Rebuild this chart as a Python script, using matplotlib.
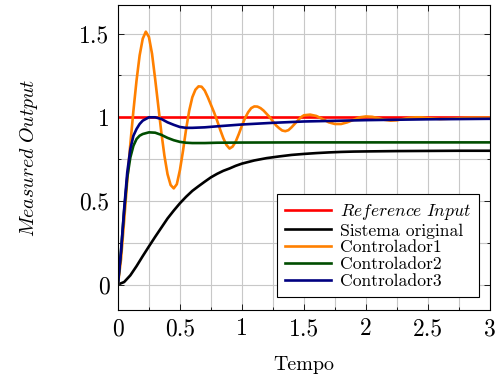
import numpy as np
import matplotlib
matplotlib.use('Agg')
import matplotlib.pyplot as plt
from matplotlib.ticker import MultipleLocator, FuncFormatter

plt.rcParams['font.family'] = 'serif'
plt.rcParams['font.serif'] = ['cmr10']
plt.rcParams['mathtext.fontset'] = 'cm'
plt.rcParams['axes.formatter.use_mathtext'] = True

# reference input
t_ref = [0, 3]
y_ref = [1, 1]

# sistema original
t_sys = [0, 0.05, 0.1, 0.15, 0.2, 0.25, 0.3, 0.35, 0.4, 0.45, 0.5, 0.55, 0.6, 0.65,
         0.7, 0.75, 0.8, 0.85, 0.9, 0.95, 1.0, 1.1, 1.2, 1.3, 1.4, 1.5, 1.6, 1.7,
         1.8, 1.9, 2.0, 2.25, 2.5, 2.75, 3.0]
y_sys = [0, 0.015, 0.055, 0.11, 0.17, 0.228, 0.285, 0.34, 0.395, 0.442, 0.486, 0.525,
         0.56, 0.588, 0.615, 0.641, 0.662, 0.68, 0.694, 0.71, 0.723, 0.742, 0.756,
         0.766, 0.775, 0.781, 0.786, 0.79, 0.793, 0.795, 0.796, 0.798, 0.799, 0.8, 0.8]

# controlador1
t_c1 = [0, 0.025, 0.05, 0.075, 0.1, 0.125, 0.15, 0.175, 0.2, 0.225, 0.25, 0.275, 0.3,
        0.325, 0.35, 0.375, 0.4, 0.425, 0.45, 0.475, 0.5, 0.525, 0.55, 0.575, 0.6,
        0.625, 0.65, 0.675, 0.7, 0.725, 0.75, 0.775, 0.8, 0.825, 0.85, 0.875, 0.9,
        0.925, 0.95, 0.975, 1.0, 1.025, 1.05, 1.075, 1.1, 1.125, 1.15, 1.175, 1.2,
        1.225, 1.25, 1.275, 1.3, 1.325, 1.35, 1.375, 1.4, 1.425, 1.45, 1.475, 1.5,
        1.55, 1.6, 1.65, 1.7, 1.75, 1.8, 1.85, 1.9, 1.95, 2.0, 2.05, 2.1, 2.15, 2.2,
        2.25, 2.3, 2.35, 2.4, 2.45, 2.5, 2.6, 2.7, 2.8, 2.9, 3.0]
y_c1 = [0, 0.15, 0.38, 0.62, 0.84, 1.04, 1.22, 1.37, 1.47, 1.512, 1.48, 1.38, 1.23,
        1.07, 0.91, 0.77, 0.66, 0.595, 0.575, 0.6, 0.685, 0.8, 0.93, 1.04, 1.12,
        1.165, 1.185, 1.183, 1.16, 1.12, 1.075, 1.03, 0.98, 0.925, 0.875, 0.835, 0.813,
        0.825, 0.855, 0.9, 0.95, 0.995, 1.03, 1.055, 1.065, 1.064, 1.055, 1.04, 1.02,
        1.0, 0.975, 0.952, 0.935, 0.921, 0.917, 0.923, 0.94, 0.96, 0.98, 1.0, 1.012,
        1.016, 1.008, 0.99, 0.97, 0.96, 0.96, 0.97, 0.985, 1.0, 1.005, 1.003, 0.995,
        0.985, 0.98, 0.982, 0.99, 0.997, 1.0, 1.0, 0.995, 0.99, 0.992, 0.997, 0.998, 0.998]

# controlador2
t_c2 = [0, 0.025, 0.05, 0.075, 0.1, 0.125, 0.15, 0.175, 0.2, 0.25, 0.3, 0.35, 0.4,
        0.45, 0.5, 0.55, 0.6, 0.7, 0.8, 1.0, 1.5, 2.0, 2.5, 3.0]
y_c2 = [0, 0.2, 0.44, 0.64, 0.76, 0.83, 0.87, 0.89, 0.9, 0.91, 0.908, 0.895, 0.877,
        0.863, 0.853, 0.848, 0.846, 0.846, 0.848, 0.849, 0.85, 0.85, 0.85, 0.85]

# controlador3
t_c3 = [0, 0.025, 0.05, 0.075, 0.1, 0.125, 0.15, 0.175, 0.2, 0.25, 0.3, 0.35, 0.4,
        0.45, 0.5, 0.55, 0.6, 0.7, 0.8, 1.0, 1.25, 1.5, 2.0, 2.5, 3.0]
y_c3 = [0, 0.2, 0.45, 0.67, 0.81, 0.89, 0.93, 0.96, 0.98, 1.0, 1.0, 0.99, 0.97,
        0.955, 0.942, 0.937, 0.937, 0.94, 0.946, 0.957, 0.967, 0.975, 0.983, 0.988, 0.991]

fig = plt.figure(figsize=(5.04, 3.78), dpi=100)
ax = fig.add_axes([0.234, 0.18, 0.738, 0.807])

lw = 1.9
ax.plot(t_ref, y_ref, color='#ff0000', lw=lw, label=r'$\mathit{Reference\ Input}$')
ax.plot(t_sys, y_sys, color='black', lw=lw, label='Sistema original')
ax.plot(t_c1, y_c1, color='#ff8000', lw=lw, label='Controlador1')
ax.plot(t_c2, y_c2, color='#004d00', lw=lw, label='Controlador2')
ax.plot(t_c3, y_c3, color='#000080', lw=lw, label='Controlador3')

ax.set_xlim(0, 3)
ax.set_ylim(-0.152, 1.672)
ax.xaxis.set_major_locator(MultipleLocator(0.5))
ax.xaxis.set_minor_locator(MultipleLocator(0.25))
ax.yaxis.set_major_locator(MultipleLocator(0.5))
ax.yaxis.set_minor_locator(MultipleLocator(0.25))
ax.xaxis.set_major_formatter(FuncFormatter(lambda v, p: '%g' % v))
ax.yaxis.set_major_formatter(FuncFormatter(lambda v, p: '%g' % v))
ax.tick_params(which='both', direction='in', top=True, right=True, labelsize=17, pad=6)
ax.tick_params(which='major', length=4, width=0.6)
ax.tick_params(which='minor', length=2.5, width=0.6)
ax.grid(which='both', color='#c8c8c8', lw=0.8)
ax.set_axisbelow(True)
for s in ax.spines.values():
    s.set_linewidth(0.8)

ax.set_xlabel('Tempo', fontsize=14.4, labelpad=11)
ax.set_ylabel(r'$\mathit{Measured\ Output}$', fontsize=14.4, labelpad=28)

leg = ax.legend(loc='lower right', bbox_to_anchor=(0.97, 0.043), borderaxespad=0,
                fontsize=12.7, fancybox=False, framealpha=1, edgecolor='black',
                handlelength=2.6, handletextpad=0.5, labelspacing=0.08, borderpad=0.45)
leg.get_frame().set_linewidth(0.8)

fig.savefig('out.png', dpi=100)
